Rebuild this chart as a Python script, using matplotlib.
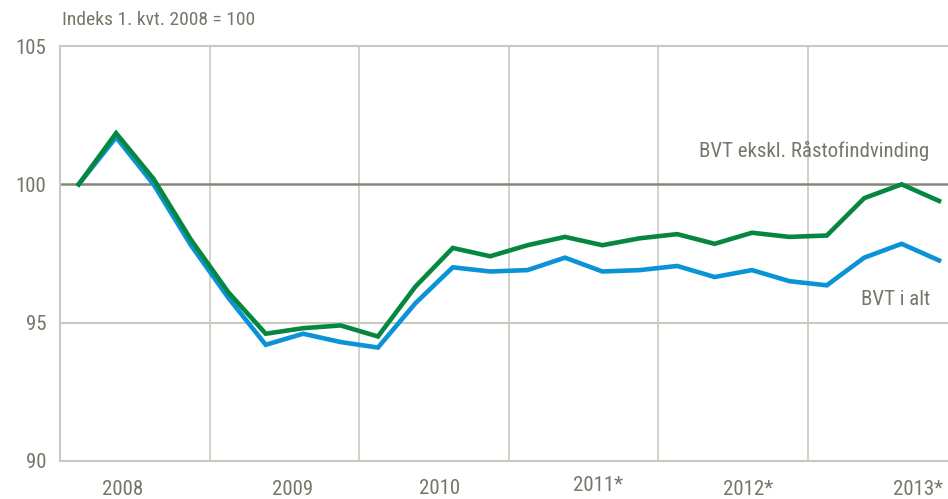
import matplotlib
matplotlib.use("Agg")
import matplotlib.pyplot as plt
from matplotlib import font_manager as fm
import matplotlib.transforms as mtransforms

names = {f.name for f in fm.fontManager.ttflist}
fam = ['Liberation Sans Narrow'] if 'Liberation Sans Narrow' in names else ['Roboto Condensed'] if 'Roboto Condensed' in names else ['Liberation Sans']
plt.rcParams['font.family'] = fam + ['DejaVu Sans']

quarters = list(range(24))  # 2008K1 .. 2013K4
bvt_ekskl = [100.0, 101.85, 100.2, 98.0, 96.1, 94.6, 94.8, 94.9, 94.5, 96.3, 97.7, 97.4,
             97.8, 98.1, 97.8, 98.05, 98.2, 97.85, 98.25, 98.1, 98.15, 99.5, 100.0, 99.4]
bvt_alt = [100.0, 101.7, 100.0, 97.8, 95.9, 94.2, 94.6, 94.3, 94.1, 95.7, 97.0, 96.85,
           96.9, 97.35, 96.85, 96.9, 97.05, 96.65, 96.9, 96.5, 96.35, 97.35, 97.85, 97.25]
year_labels = ['2008', '2009', '2010', '2011*', '2012*', '2013*']
year_label_pos = [1.18, 5.73, 9.66, 13.88, 17.9, 22.44]
year_label_y = [-0.068, -0.069, -0.066, -0.060, -0.068, -0.068]
yticks = [90, 95, 100, 105]

txt = '#76766a'
grid = '#c9c9be'

fig = plt.figure(figsize=(9.48, 4.99), dpi=100)
ax = fig.add_axes([60/948, 38/499, 888/948, 415/499])
ax.set_xlim(-0.5, 23.24)
ax.set_ylim(90, 105)

for b in [3.5, 7.5, 11.5, 15.5, 19.5]:
    ax.axvline(b, color=grid, lw=1.2, zorder=1)
ax.axhline(95, color=grid, lw=1.5, zorder=1)
ax.axhline(100, color='#85857a', lw=1.8, zorder=1)

ax.plot(quarters, bvt_alt, color='#0a93d6', lw=3.3, zorder=3, solid_joinstyle='miter')
ax.plot(quarters, bvt_ekskl, color='#06873f', lw=3.3, zorder=4, solid_joinstyle='miter')

ax.spines['right'].set_visible(False)
for s in ['left', 'top', 'bottom']:
    ax.spines[s].set_color(grid)
    ax.spines[s].set_linewidth(1.5)

ax.set_yticks(yticks)
ax.set_yticklabels([str(v) for v in yticks], fontsize=15, color=txt)
ax.tick_params(axis='y', length=0, pad=10)
ax.set_xticks([])

trans = mtransforms.blended_transform_factory(ax.transData, ax.transAxes)
for lab, xp, yp in zip(year_labels, year_label_pos, year_label_y):
    ax.text(xp, yp, lab, transform=trans, ha='center', va='center', fontsize=15, color=txt)

fig.text(62/948, 1 - 20/499, 'Indeks 1. kvt. 2008 = 100', ha='left', va='center', fontsize=14, color=txt)
ax.text(22.75, 101.2, 'BVT ekskl. Råstofindvinding', ha='right', va='center', fontsize=15, color=txt)
ax.text(22.75, 95.85, 'BVT i alt', ha='right', va='center', fontsize=15, color=txt)

fig.savefig('out.png', dpi=100)
